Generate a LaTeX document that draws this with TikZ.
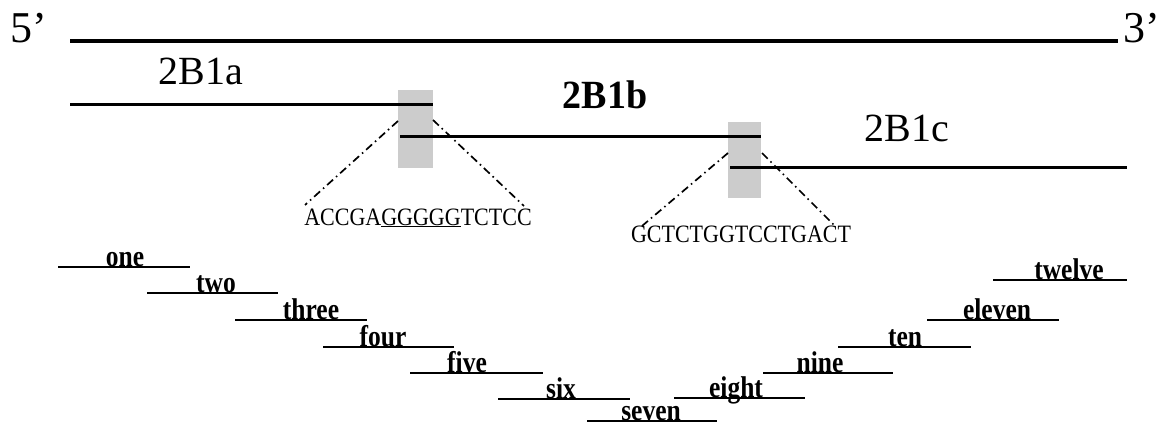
\documentclass[tikz,border=0pt]{standalone}
\usepackage{fontspec}
\setmainfont{Liberation Serif}
\begin{document}
\begin{tikzpicture}[x=1pt,y=-1pt,
  dna/.style={line width=3.5pt},
  exon/.style={line width=3pt},
  frag/.style={line width=2pt},
  zoomline/.style={line width=1.7pt, dash pattern=on 8pt off 4pt on 1.5pt off 4pt},
  junction/.style={fill=black!20, draw=none},
  endlbl/.style={font=\fontsize{44}{44}\selectfont, inner sep=0pt},
  exonlbl/.style={font=\fontsize{40}{40}\selectfont, inner sep=0pt},
  seqlbl/.style={font=\fontsize{25}{25}\selectfont, anchor=base, inner sep=0pt},
  fraglbl/.style={font=\fontsize{30}{30}\selectfont\bfseries, anchor=base, inner sep=0pt}]
\useasboundingbox (0,0) rectangle (1167,425);

% shaded splice junctions
\fill[junction] (398,90) rectangle (433,168);
\fill[junction] (728,122) rectangle (761,198);

% full-length sequence with its ends
\node[endlbl] (five) at (29,28) {5’};
\node[endlbl] (three) at (1142,28) {3’};
\coordinate (top-l) at (70,41);
\coordinate (top-r) at (1118,41);
\draw[dna] (top-l) -- (top-r);

% the three exons
\coordinate (a-l) at (70,105);   \coordinate (a-r) at (433,105);
\coordinate (b-l) at (400,137);  \coordinate (b-r) at (761,137);
\coordinate (c-l) at (730,167);  \coordinate (c-r) at (1127,167);
\draw[exon] (a-l) -- (a-r);
\draw[exon] (b-l) -- (b-r);
\draw[exon] (c-l) -- (c-r);
\node[exonlbl] (la) at (201,71) {2B1a};
\node[exonlbl,font=\fontsize{40}{40}\selectfont\bfseries] (lb) at (605,95) {\scalebox{0.95}[1]{2B1b}};
\node[exonlbl] (lc) at (907,128) {2B1c};

% junction sequences
\node[seqlbl] (seq1) at (418,225) {\scalebox{0.88}[1]{ACCGA\underline{GGGGG}TCTCC}};
\node[seqlbl] (seq2) at (741,242) {\scalebox{0.88}[1]{GCTCTGGTCCTGACT}};
\coordinate (j1-tl) at (398,121); \coordinate (j1-tr) at (433,120);
\coordinate (j1-bl) at (305,205); \coordinate (j1-br) at (524,206);
\coordinate (j2-tl) at (728,153); \coordinate (j2-tr) at (762,153);
\coordinate (j2-bl) at (642,226); \coordinate (j2-br) at (835,226);
\draw[zoomline] (j1-tl) -- (j1-bl);
\draw[zoomline] (j1-tr) -- (j1-br);
\draw[zoomline] (j2-tl) -- (j2-bl);
\draw[zoomline] (j2-tr) -- (j2-br);

% overlapping fragments
\foreach \n/\xa/\xb/\y/\xt in {one/58/190/267/125, two/147/278/293/216,
    three/235/367/320/311, four/323/454/347/383, five/410/543/373/467,
    six/498/630/399/561, seven/587/717/421/651, eight/674/805/398/736,
    nine/763/893/373/820, ten/838/971/347/905, eleven/927/1059/320/997,
    twelve/993/1127/280/1069} {
  \coordinate (f-\n-l) at (\xa,\y);
  \coordinate (f-\n-r) at (\xb,\y);
  \draw[frag] (f-\n-l) -- (f-\n-r);
  \node[fraglbl] (t-\n) at (\xt,\y-1) {\scalebox{0.85}[1]{\n}};
}
\end{tikzpicture}
\end{document}
